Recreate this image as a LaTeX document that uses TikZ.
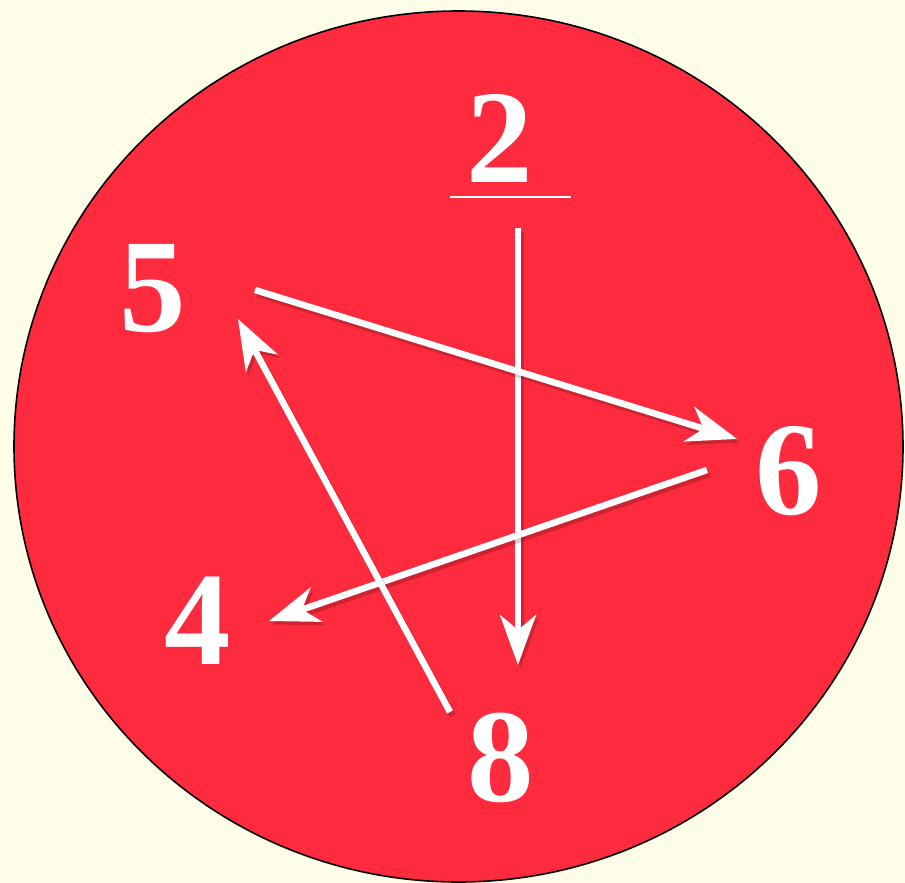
\documentclass[tikz,border=0pt]{standalone}
\usepackage{fontspec}
\setmainfont{Liberation Serif}
\usetikzlibrary{arrows.meta}
\definecolor{cream}{RGB}{254,253,232}
\definecolor{dialred}{RGB}{254,43,62}
\tikzset{
  digit/.style={text=white,inner sep=0pt,font=\fontsize{133}{133}\selectfont\bfseries},
  arr/.style={draw=white,line width=6.5pt,
    -{Stealth[length=50pt,width=36pt,inset=15pt]},
    preaction={draw=black,draw opacity=0.18,fill opacity=0.18,line width=7pt,transform canvas={shift={(2.5pt,-3.5pt)}},
      -{Stealth[length=50pt,width=36pt,inset=15pt,fill=black]}}},
}
\begin{document}
\begin{tikzpicture}[x=1pt,y=-1pt]
\useasboundingbox (0,0) rectangle (905,883);
\fill[cream] (0,0) rectangle (905,883);
\draw[fill=dialred,draw=black,line width=1.6pt] (458.5,446.5) ellipse [x radius=444.5pt, y radius=435.5pt];
% digits
\node[digit] (n2) at (500,138) {2};
\node[digit] (n5) at (153,289) {5};
\node[digit] (n6) at (789,471) {6};
\node[digit] (n4) at (198,621) {4};
\node[digit] (n8) at (501,758) {8};
% underline under 2
\coordinate (u1) at (450,197);
\coordinate (u2) at (571,197);
\draw[white,line width=2pt] (u1) -- (u2);
% arrow end points
\coordinate (s2) at (518,228);
\coordinate (e8) at (518,665);
\coordinate (s5) at (255,290);
\coordinate (e6) at (737,439);
\coordinate (s6) at (707,470);
\coordinate (e4) at (269,621);
\coordinate (s8) at (450,712);
\coordinate (e5) at (238,319);
\draw[arr] (s2) -- (e8);
\draw[arr] (s5) -- (e6);
\draw[arr] (s6) -- (e4);
\draw[arr] (s8) -- (e5);
\end{tikzpicture}
\end{document}
